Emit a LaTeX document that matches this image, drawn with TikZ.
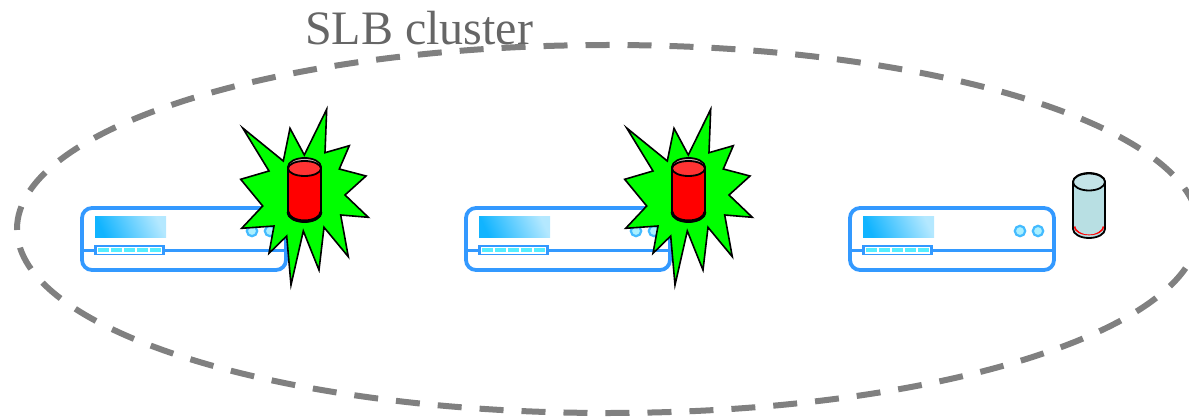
\documentclass[tikz,border=0pt]{standalone}
\usepackage{fontspec}
\setmainfont{Liberation Serif}
\usepackage{tikz}
\usetikzlibrary{positioning, calc, shapes.geometric}

\definecolor{srvblue}{HTML}{3399FF}
\definecolor{panelA}{HTML}{11B4FF}
\definecolor{panelM}{HTML}{55C8FF}
\definecolor{panelB}{HTML}{B4E8FF}
\definecolor{slotcyan}{HTML}{55EEFF}
\definecolor{ledfill}{HTML}{AAF0FF}
\definecolor{ledline}{HTML}{44BBFF}
\definecolor{cylteal}{HTML}{B8DFE3}
\definecolor{cylteal2}{HTML}{C4E4E8}
\definecolor{cylred}{HTML}{FF3333}
\definecolor{burstgreen}{HTML}{00FF00}

\begin{document}
\begin{tikzpicture}[
    x=1pt, y=-1pt,
    clusterline/.style={draw=gray, line width=6pt, dash pattern=on 24pt off 18pt, dash phase=22pt},
    clusterlabel/.style={text=black!60, font=\fontsize{48}{50}\selectfont, inner sep=0pt, anchor=base west},
    srvline/.style={draw=srvblue, line width=3pt},
    srvbody/.style={draw=srvblue, line width=3.8pt, rounded corners=10pt},
    burstline/.style={draw=black, fill=burstgreen, line width=1.6pt, line join=miter},
    cylline/.style={draw=black, line width=1.8pt},
    server/.pic={
        \draw[srvbody] (82,208) rectangle (286,270);
        \draw[srvline] (84,250) -- (285,250);
        \shade[left color=panelA, middle color=panelM, right color=panelB, shading angle=115] (95,216) rectangle (166,237);
        \fill[srvblue] (94,245) rectangle (165,255);
        \foreach \i in {0,...,4} {
            \fill[white] (97+13.1*\i,247) rectangle (109.5+13.1*\i,253.5);
            \fill[slotcyan] (98+13.1*\i,247.5) rectangle (108.5+13.1*\i,252);
        }
        \draw[ledline, fill=ledfill, line width=2.2pt] (252,231) circle[radius=5.2pt];
        \draw[ledline, fill=ledfill, line width=2.2pt] (270,231) circle[radius=5.2pt];
    },
    burst/.pic={
        \draw[burstline] (326.7,109.3) -- (325,152.7) -- (349.3,145.7) -- (339.3,169) -- (366,176)
            -- (345,195) -- (368.3,217.3) -- (340.7,215) -- (348.3,256.7) -- (324,227.3)
            -- (319,270) -- (303.3,231) -- (291,285) -- (286.7,236) -- (269,253.3)
            -- (274,226) -- (241.7,228.3) -- (262.7,206) -- (240.7,179.3) -- (269,171)
            -- (242.7,128) -- (283.3,161) -- (290,128.3) -- (304.3,155) -- cycle;
    },
    redcyl/.pic={
        \draw[cylline, fill=red] (288,167) -- (288,213)
            arc[start angle=180, end angle=360, x radius=16.5pt, y radius=9pt]
            -- (321,167) arc[start angle=0, end angle=180, x radius=16.5pt, y radius=9pt] -- cycle;
        \draw[draw=black, line width=3pt] (288,212) arc[start angle=180, end angle=360, x radius=16.5pt, y radius=9pt];
        \fill[gray!50] (304.5,167) ellipse[x radius=15.5pt, y radius=8pt];
        \draw[cylline, fill=cylred] (304.5,168.5) ellipse[x radius=16.5pt, y radius=7.5pt];
    },
]
\useasboundingbox (0,0) rectangle (1189,417);

% Umriss und Beschriftung
\draw[clusterline] (608,229) ellipse[x radius=591pt, y radius=184pt];
\node[clusterlabel] (title) at (305,45) {SLB cluster};

% Server
\pic (srvA) at (0,0) {server};
\pic (srvB) at (384,0) {server};
\pic (srvC) at (768,0) {server};

% Ausfaelle
\pic (burstA) at (0,0) {burst};
\pic (burstB) at (384,0) {burst};
\pic (cylA) at (0,0) {redcyl};
\pic (cylB) at (384,0) {redcyl};

% intakter Speicher
\draw[cylline, fill=cylteal] (1073,182) -- (1073,229)
    arc[start angle=180, end angle=360, x radius=16pt, y radius=9pt]
    -- (1105,182) arc[start angle=0, end angle=180, x radius=16pt, y radius=9pt] -- cycle;
\draw[draw=red, line width=1.6pt] (1074.5,226.5) arc[start angle=180, end angle=360, x radius=14.5pt, y radius=8pt];
\fill[cylteal] (1089,226.5) ellipse[x radius=12.5pt, y radius=8pt];
\draw[cylline, fill=cylteal2] (1089,182) ellipse[x radius=16pt, y radius=8.5pt];
\end{tikzpicture}
\end{document}
